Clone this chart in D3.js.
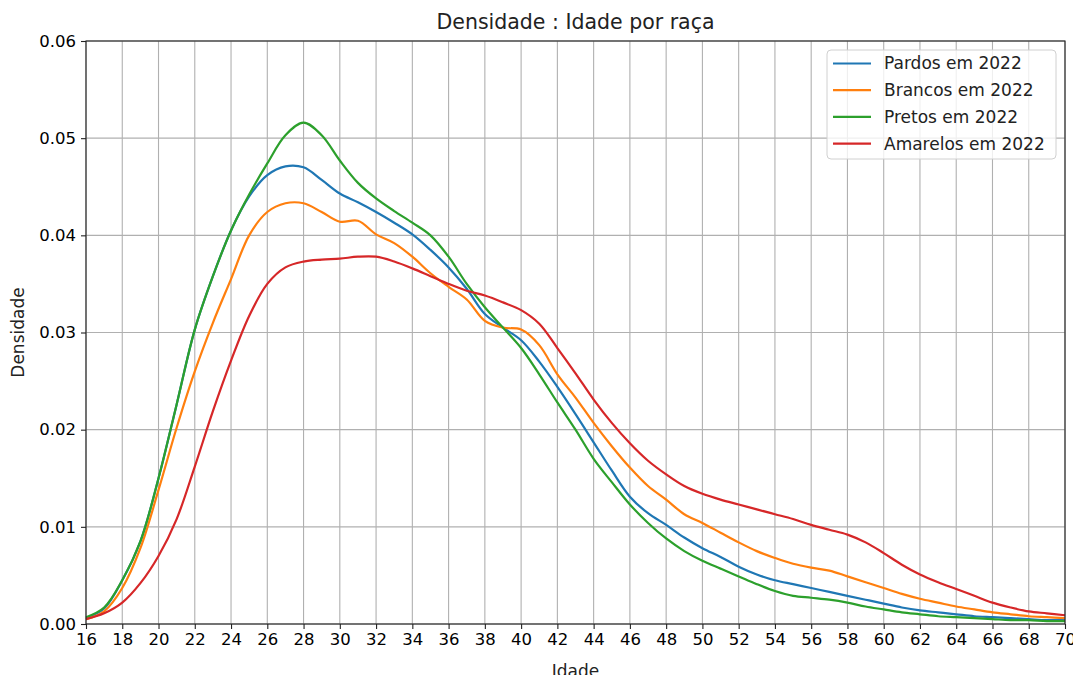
<!DOCTYPE html>
<html>
<head>
<meta charset="utf-8">
<script src="https://cdn.jsdelivr.net/npm/d3@7"></script>
<style>
  body { margin: 0; background: #fff; }
  text { font-family: "DejaVu Sans", sans-serif; fill: #000; }
</style>
</head>
<body>
<script>
// ages 16..70
var idades = d3.range(16, 71);

var pardos = [0.0006,0.0016,0.0045,0.0085,0.0150,0.0226,0.0303,0.0358,0.0405,0.0440,
  0.0462,0.0471,0.0470,0.0457,0.0443,0.0434,0.0424,0.0413,0.0401,0.0385,
  0.0367,0.0345,0.0319,0.0305,0.0292,0.0270,0.0244,0.0216,0.0187,0.0158,
  0.0131,0.0114,0.0102,0.0089,0.0078,0.0069,0.0059,0.0051,0.0045,0.0041,
  0.0037,0.0033,0.0029,0.0025,0.0021,0.0017,0.0014,0.0012,0.0010,0.0008,
  0.0007,0.0006,0.0005,0.0004,0.0004];

var brancos = [0.0005,0.0013,0.0037,0.0078,0.0138,0.0202,0.0260,0.0310,0.0355,0.0400,
  0.0424,0.0433,0.0433,0.0424,0.0414,0.0415,0.0401,0.0392,0.0378,0.0361,
  0.0347,0.0334,0.0312,0.0305,0.0303,0.0287,0.0257,0.0233,0.0207,0.0183,
  0.0161,0.0142,0.0128,0.0113,0.0104,0.0094,0.0084,0.0075,0.0068,0.0062,
  0.0058,0.0055,0.0049,0.0043,0.0037,0.0031,0.0026,0.0022,0.0018,0.0015,
  0.0012,0.0010,0.0008,0.0007,0.0006];

var pretos = [0.0007,0.0017,0.0045,0.0085,0.0150,0.0226,0.0303,0.0358,0.0405,0.0442,
  0.0474,0.0503,0.0516,0.0503,0.0477,0.0454,0.0438,0.0425,0.0413,0.0400,
  0.0378,0.0350,0.0326,0.0305,0.0284,0.0257,0.0228,0.0200,0.0170,0.0146,
  0.0123,0.0104,0.0088,0.0075,0.0065,0.0057,0.0049,0.0041,0.0034,0.0029,
  0.0027,0.0025,0.0022,0.0018,0.0015,0.0012,0.0010,0.0008,0.0007,0.0006,
  0.0005,0.0004,0.0004,0.0003,0.0003];

var amarelos = [0.0005,0.0011,0.0022,0.0042,0.0070,0.0108,0.0162,0.0219,0.0271,0.0317,
  0.0350,0.0367,0.0373,0.0375,0.0376,0.0378,0.0378,0.0373,0.0366,0.0358,
  0.0350,0.0343,0.0338,0.0331,0.0323,0.0309,0.0284,0.0258,0.0231,0.0207,
  0.0186,0.0168,0.0154,0.0142,0.0134,0.0128,0.0123,0.0118,0.0113,0.0108,
  0.0102,0.0097,0.0092,0.0084,0.0073,0.0061,0.0051,0.0043,0.0036,0.0029,
  0.0022,0.0017,0.0013,0.0011,0.0009];

var nomes = ["Pardos em 2022", "Brancos em 2022", "Pretos em 2022", "Amarelos em 2022"];
var cores = ["#1f77b4", "#ff7f0e", "#2ca02c", "#d62728"];
var xTicks = d3.range(16, 71, 2);
var yTicks = [0, 0.01, 0.02, 0.03, 0.04, 0.05, 0.06];

function init(){
    var width = 1073, height = 675;
    var margin = {top: 41, right: 8, bottom: 51, left: 86};

    var svg = d3.select("body").append("svg")
        .attr("width", width)
        .attr("height", height);

    var x = d3.scaleLinear().domain([16, 70]).range([margin.left, width - margin.right]);
    var y = d3.scaleLinear().domain([0, 0.06]).range([height - margin.bottom, margin.top]);

    // grid
    svg.append("g").selectAll("line.vx")
        .data(xTicks).enter().append("line")
        .attr("x1", function(d){ return x(d); }).attr("x2", function(d){ return x(d); })
        .attr("y1", y(0)).attr("y2", y(0.06))
        .attr("stroke", "#b0b0b0").attr("stroke-width", 1.1);
    svg.append("g").selectAll("line.hy")
        .data(yTicks).enter().append("line")
        .attr("y1", function(d){ return y(d); }).attr("y2", function(d){ return y(d); })
        .attr("x1", x(16)).attr("x2", x(70))
        .attr("stroke", "#b0b0b0").attr("stroke-width", 1.1);

    var series = [pardos, brancos, pretos, amarelos];
    var line = d3.line()
        .x(function(d, i){ return x(idades[i]); })
        .y(function(d){ return y(d); })
        .curve(d3.curveCatmullRom.alpha(0.5));

    svg.append("g").selectAll("path")
        .data(series).enter().append("path")
        .attr("d", line)
        .attr("fill", "none")
        .attr("stroke", function(d, i){ return cores[i]; })
        .attr("stroke-width", 2.2);

    // frame
    svg.append("rect")
        .attr("x", x(16)).attr("y", y(0.06))
        .attr("width", x(70) - x(16)).attr("height", y(0) - y(0.06))
        .attr("fill", "none").attr("stroke", "#222").attr("stroke-width", 1.1);

    var xAxis = svg.append("g")
        .attr("transform", "translate(0," + y(0) + ")")
        .call(d3.axisBottom(x).tickValues(xTicks).tickSize(5).tickPadding(4).tickFormat(d3.format("d")));
    var yAxis = svg.append("g")
        .attr("transform", "translate(" + x(16) + ",0)")
        .call(d3.axisLeft(y).tickValues(yTicks).tickSize(5).tickPadding(5).tickFormat(d3.format(".2f")));
    [xAxis, yAxis].forEach(function(a){
        a.select(".domain").remove();
        a.selectAll("line").attr("stroke", "#222").attr("stroke-width", 1.1);
        a.selectAll("text").style("font-size", "16.5px").style("font-family", "DejaVu Sans").attr("fill", "#222");
    });

    svg.append("text")
        .attr("x", (x(16) + x(70)) / 2).attr("y", 29)
        .attr("text-anchor", "middle")
        .style("font-size", "20.5px").style("fill", "#222")
        .text("Densidade : Idade por raça");

    svg.append("text")
        .attr("x", (x(16) + x(70)) / 2).attr("y", 677)
        .attr("text-anchor", "middle")
        .style("font-size", "17px").style("fill", "#222")
        .text("Idade");

    svg.append("text")
        .attr("transform", "translate(24," + (y(0) + y(0.06)) / 2 + ") rotate(-90)")
        .attr("text-anchor", "middle")
        .style("font-size", "17px").style("fill", "#222")
        .text("Densidade");

    // legend
    var lg = svg.append("g").attr("transform", "translate(827,50)");
    lg.append("rect")
        .attr("width", 229).attr("height", 109).attr("rx", 4)
        .attr("fill", "#fff").attr("fill-opacity", 0.8)
        .attr("stroke", "#d0d0d0").attr("stroke-width", 1);
    var rows = lg.selectAll("g.row").data(nomes).enter().append("g")
        .attr("transform", function(d, i){ return "translate(0," + (13.5 + i * 26.7) + ")"; });
    rows.append("line")
        .attr("x1", 6).attr("x2", 44)
        .attr("stroke", function(d, i){ return cores[i]; })
        .attr("stroke-width", 2.2);
    rows.append("text")
        .attr("x", 57).attr("dy", "0.35em")
        .style("font-size", "17px").style("fill", "#222")
        .text(function(d){ return d; });
}

window.onload = init;
</script>
</body>
</html>
